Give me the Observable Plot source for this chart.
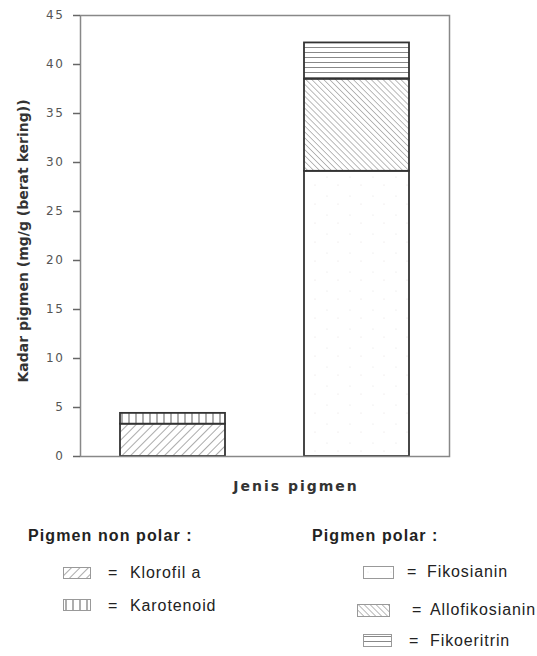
<!DOCTYPE html>
<html><head><meta charset="utf-8">
<script src="https://cdn.jsdelivr.net/npm/d3@7"></script>
<script src="https://cdn.jsdelivr.net/npm/@observablehq/plot@0.6"></script>
<style>
body{margin:0;background:#fff;}
#wrap{position:relative;width:537px;height:656px;overflow:hidden;}
#chart{position:absolute;left:0;top:0;}
.lg{position:absolute;font-family:"Liberation Sans",Arial,sans-serif;color:#222;white-space:nowrap;line-height:18px;height:18px;}
.lg.h{font-weight:bold;font-size:16px;letter-spacing:1.1px;}
.lg.t{font-size:16px;letter-spacing:0.9px;}
.lg.e{font-size:16px;}
.sw{position:absolute;display:block;}
</style></head><body>
<svg width="0" height="0" style="position:absolute">
<defs>
  <pattern id="p-klorofil" patternUnits="userSpaceOnUse" width="6" height="6" patternTransform="rotate(45)">
    <rect width="6" height="6" fill="#fff"/><line x1="0" y1="0" x2="0" y2="6" stroke="#666" stroke-width="1.1"/>
  </pattern>
  <pattern id="p-karotenoid" patternUnits="userSpaceOnUse" width="7" height="7">
    <rect width="7" height="7" fill="#fff"/><line x1="3" y1="0" x2="3" y2="7" stroke="#777" stroke-width="1.2"/>
  </pattern>
  <pattern id="p-fikosianin" patternUnits="userSpaceOnUse" width="23" height="19">
    <rect width="23" height="19" fill="#fff"/><circle cx="5" cy="6" r="0.6" fill="#e4e4e4"/><circle cx="16" cy="14" r="0.6" fill="#e8e0e0"/>
  </pattern>
  <pattern id="p-allofikosianin" patternUnits="userSpaceOnUse" width="4.2" height="4.2" patternTransform="rotate(-45)">
    <rect width="4.2" height="4.2" fill="#fff"/><line x1="0" y1="0" x2="0" y2="4.2" stroke="#777" stroke-width="1"/>
  </pattern>
  <pattern id="p-fikoeritrin" patternUnits="userSpaceOnUse" width="5" height="5">
    <rect width="5" height="5" fill="#fff"/><line x1="0" y1="2.5" x2="5" y2="2.5" stroke="#888" stroke-width="1"/>
  </pattern>
</defs>
</svg>
<div id="wrap">
  <div id="chart"></div>
</div>
<script>
// ---- data ----
const kategori = ["Pigmen non polar", "Pigmen polar"];
const pigmen = ["Klorofil a", "Karotenoid", "Fikosianin", "Allofikosianin", "Fikoeritrin"];
const pigmenKategori = ["Pigmen non polar", "Pigmen non polar", "Pigmen polar", "Pigmen polar", "Pigmen polar"];
const nilai = [3.3, 1.1, 29.1, 9.4, 3.7];
const yTicks = [0, 5, 10, 15, 20, 25, 30, 35, 40, 45];
const patternIds = ["p-klorofil", "p-karotenoid", "p-fikosianin", "p-allofikosianin", "p-fikoeritrin"];
const yLabel = "Kadar pigmen (mg/g (berat kering))";
const xLabel = "Jenis pigmen";

const rows = pigmen.map((p, i) => ({pigmen: p, kategori: pigmenKategori[i], nilai: nilai[i]}));

const chart = Plot.plot({
  width: 537, height: 510,
  marginTop: 15, marginLeft: 80, marginRight: 88, marginBottom: 54,
  style: {fontFamily: "DejaVu Sans, sans-serif", fontSize: "12px", background: "#fff", overflow: "visible"},
  x: {domain: kategori, paddingInner: 0.43, paddingOuter: 0.215, axis: null},
  y: {domain: [0, 45]},
  color: {domain: pigmen, range: patternIds.map(id => `url(#${id})`)},
  marks: [
    Plot.barY(rows, Plot.stackY({order: null}, {x: "kategori", y: "nilai", fill: "pigmen", stroke: "#333", strokeWidth: 1.8})),
    Plot.frame({stroke: "#888", strokeWidth: 1.5}),
    Plot.axisY({ticks: yTicks, tickSize: 7, tickPadding: 9, color: "#666", strokeWidth: 1.5, label: null}),
    Plot.text([yLabel], {frameAnchor: "left", rotate: -90, textAnchor: "middle", dx: -57, dy: 5, fontWeight: "bold", fontSize: 14, fill: "#333"}),
    Plot.text([xLabel], {frameAnchor: "bottom", dx: 31, dy: 34, fontWeight: "bold", fontSize: 14, fill: "#333"})
  ]
});
document.getElementById("chart").appendChild(chart);
// letter spacing to match the reference's wide glyphs
d3.select(chart).selectAll('[aria-label="y-axis tick label"] text').attr("letter-spacing", "1.6px").attr("fill", "#555");
d3.select(chart).selectAll('g[aria-label="text"] text').filter(function() { return this.textContent === xLabel; }).attr("letter-spacing", "2px");

// ---- legend (HTML) ----
const wrap = document.getElementById("wrap");
function place(cls, text, left, top) {
  const d = document.createElement("div");
  d.className = "lg " + cls; d.textContent = text;
  d.style.left = left + "px"; d.style.top = top + "px";
  wrap.appendChild(d);
}
function swatch(i, x, y, w, h) {
  const ns = "http://www.w3.org/2000/svg";
  const s = document.createElementNS(ns, "svg");
  s.setAttribute("class", "sw");
  s.setAttribute("width", w + 1); s.setAttribute("height", h + 1);
  s.style.left = x + "px"; s.style.top = y + "px";
  const r = document.createElementNS(ns, "rect");
  r.setAttribute("x", 0.5); r.setAttribute("y", 0.5); r.setAttribute("width", w); r.setAttribute("height", h);
  r.setAttribute("fill", `url(#${patternIds[i]})`); r.setAttribute("stroke", "#999"); r.setAttribute("stroke-width", 1);
  s.appendChild(r);
  wrap.appendChild(s);
}
function item(i, swX, swY, swW, swH, eqX, txtX, cy) {
  swatch(i, swX, swY, swW, swH);
  place("e", "=", eqX, cy - 9);
  place("t", pigmen[i], txtX, cy - 9);
}
place("h", "Pigmen non polar :", 28, 527);
place("h", "Pigmen polar :", 312, 527);
item(0, 63, 567, 27, 11, 108, 130, 573);
item(1, 63, 599, 27, 11, 108, 130, 606);
item(2, 363, 566, 30, 12, 407, 427, 572);
item(3, 357, 604, 32, 12, 412, 430, 610);
item(4, 363, 634, 28, 12, 409, 430, 641);
</script>
</body></html>
